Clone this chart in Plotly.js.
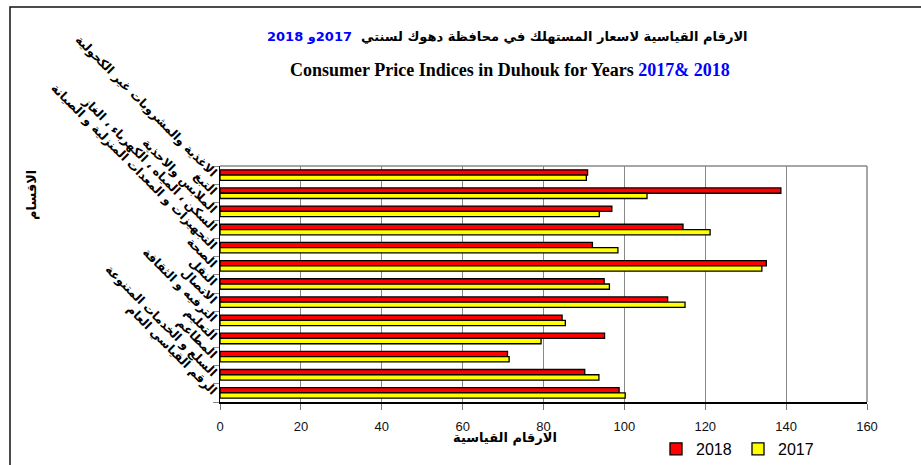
<!DOCTYPE html>
<html>
<head>
<meta charset="utf-8">
<script src="https://cdn.plot.ly/plotly-3.0.1.min.js"></script>
<style>
  body { margin: 0; background: #fff; }
  #chart { width: 921px; height: 465px; }
</style>
</head>
<body>
<div id="chart"></div>
<script>
// categories listed top to bottom as in the picture
var sections = [
  "الاغذية والمشروبات غير الكحولية",
  "التبغ",
  "الملابس والاحذية",
  "السكن ، المياه ، الكهرباء ، الغاز",
  "التجهيزات و المعدات المنزلية و الصيانة",
  "الصحة",
  "النقل",
  "الاتصال",
  "الترفيه و الثقافة",
  "التعليم",
  "المطاعم",
  "السلع و الخدمات المتنوعة",
  "الرقم القياسي العام"
];
var cpi2018 = [90.9, 138.7, 96.9, 114.5, 92.1, 135.1, 95.0, 110.7, 84.6, 95.1, 71.1, 90.2, 98.7];
var cpi2017 = [90.6, 105.6, 93.8, 121.2, 98.4, 134.0, 96.3, 115.0, 85.4, 79.4, 71.5, 93.7, 100.2];
var xTicks = [0, 20, 40, 60, 80, 100, 120, 140, 160];

var W = 921, H = 465;
var m = {l: 220, r: 54, t: 166, b: 63, autoexpand: false};
// pixel -> paper helpers for the frame and texts
function px(x) { return (x - m.l) / (W - m.l - m.r); }
function py(y) { return (H - m.b - y) / (H - m.t - m.b); }

var barLine = {color: "#000", width: 1.3};
var traces = [
  {type: "bar", orientation: "h", name: "2018", y: sections, x: cpi2018,
   marker: {color: "#ff0000", line: barLine}},
  {type: "bar", orientation: "h", name: "2017", y: sections, x: cpi2017,
   marker: {color: "#ffff00", line: barLine}}
];

var layout = {
  width: W, height: H,
  margin: m,
  paper_bgcolor: "#fff", plot_bgcolor: "#fff",
  font: {family: "Liberation Sans, Arial, DejaVu Sans", color: "#000"},
  barmode: "group",
  bargap: 0.42,
  bargroupgap: 0,
  showlegend: true,
  legend: {orientation: "h", x: px(656), y: py(432), xanchor: "left", yanchor: "top",
           font: {size: 16, family: "Liberation Sans, Arial"}, traceorder: "normal",
           entrywidth: 37, entrywidthmode: "pixels", tracegroupgap: 0,
           bgcolor: "rgba(0,0,0,0)"},
  xaxis: {
    range: [0, 160], tickvals: xTicks, ticktext: xTicks.map(String),
    showgrid: true, gridcolor: "#888", gridwidth: 1,
    zeroline: false,
    showline: true, linecolor: "#000", linewidth: 1.5,
    ticks: "outside", ticklen: 6, tickcolor: "#777",
    ticklabelstandoff: 6,
    tickfont: {size: 13, color: "#111"}
  },
  yaxis: {
    type: "category", autorange: "reversed",
    tickson: "boundaries",
    tickvals: sections,
    ticktext: sections.map(function(s) { return "<b>" + s + "</b>"; }),
    showgrid: false, zeroline: false,
    showline: true, linecolor: "#000", linewidth: 1.5,
    ticks: "outside", ticklen: 6, tickcolor: "#888",
    tickangle: 45,
    tickfont: {size: 12, color: "#000", family: "DejaVu Sans, Liberation Sans"}
  },
  shapes: [
    // gray top and right border of the plot area
    {type: "line", xref: "paper", yref: "paper", x0: 0, x1: 1, y0: 1, y1: 1,
     line: {color: "#888", width: 1.5}},
    {type: "line", xref: "paper", yref: "paper", x0: 1, x1: 1, y0: 0, y1: 1,
     line: {color: "#888", width: 1.5}},
    // outer chart frame, cut off at right and bottom
    {type: "rect", xref: "paper", yref: "paper",
     x0: px(10), x1: px(930), y0: py(7), y1: py(475),
     line: {color: "#111", width: 1.5}, fillcolor: "rgba(0,0,0,0)"}
  ],
  annotations: [
    {xref: "paper", yref: "paper", x: px(507), y: py(37), showarrow: false,
     xanchor: "center", yanchor: "middle",
     text: "<b>الارقام القياسية لاسعار المستهلك في محافظة دهوك لسنتي  <span style='color:#0000ff'>2017و 2018</span></b>",
     font: {size: 13, family: "DejaVu Sans, Liberation Sans", color: "#000"}},
    {xref: "paper", yref: "paper", x: px(510), y: py(70), showarrow: false,
     xanchor: "center", yanchor: "middle",
     text: "<b>Consumer Price Indices in Duhouk for Years <span style='color:#0000ff'>2017& 2018</span></b>",
     font: {size: 18, family: "Liberation Serif, Times New Roman", color: "#000"}},
    {xref: "paper", yref: "paper", x: px(505), y: py(438), showarrow: false,
     xanchor: "center", yanchor: "middle",
     text: "<b>الارقام القياسية</b>",
     font: {size: 13, family: "DejaVu Sans", color: "#000"}},
    {xref: "paper", yref: "paper", x: px(32), y: py(195), showarrow: false,
     xanchor: "center", yanchor: "middle", textangle: -90,
     text: "<b>الاقسام</b>",
     font: {size: 13, family: "DejaVu Sans", color: "#000"}}
  ]
};

Plotly.newPlot("chart", traces, layout, {displayModeBar: false, staticPlot: true});
</script>
</body>
</html>
